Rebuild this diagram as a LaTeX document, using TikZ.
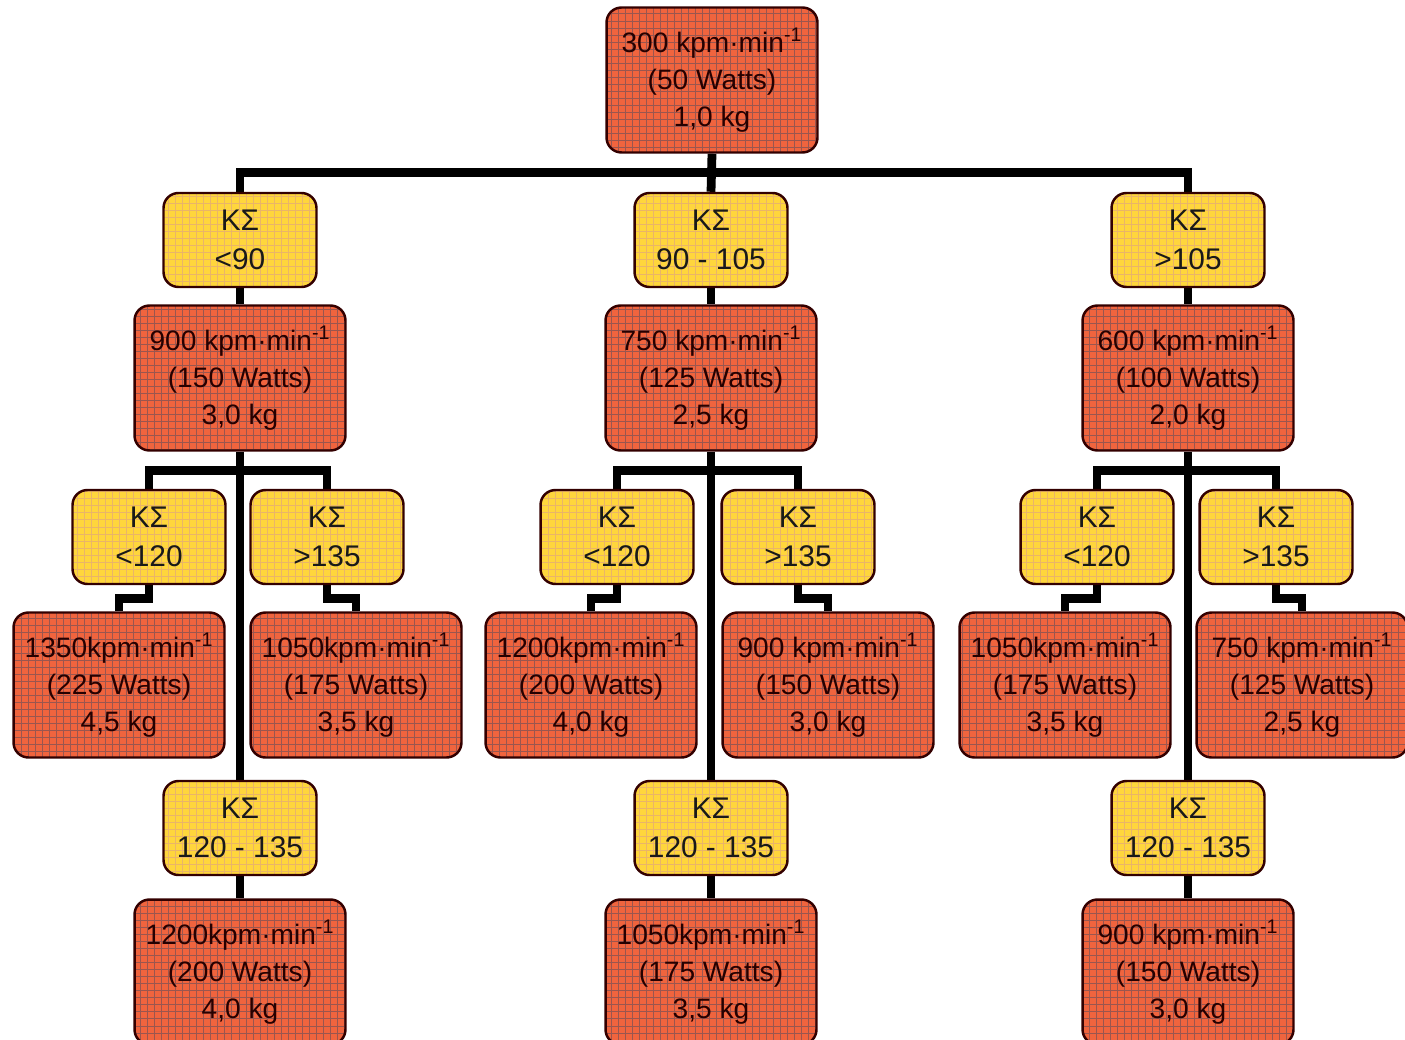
\documentclass[tikz,border=0pt]{standalone}
\usepackage{fontspec}
\setmainfont{Liberation Sans}
\usetikzlibrary{calc,patterns,backgrounds}

\definecolor{wattred}{RGB}{240,100,62}
\definecolor{wattgrid}{RGB}{120,30,20}
\definecolor{ksyellow}{RGB}{255,214,60}
\definecolor{ksgrid}{RGB}{225,150,40}

\pgfdeclarepatternformonly{boxgrid}{\pgfqpoint{-1pt}{-1pt}}{\pgfqpoint{5pt}{5pt}}{\pgfqpoint{4pt}{4pt}}{%
  \pgfsetlinewidth{0.5pt}
  \pgfpathmoveto{\pgfqpoint{0pt}{0pt}}\pgfpathlineto{\pgfqpoint{0pt}{4.1pt}}
  \pgfpathmoveto{\pgfqpoint{0pt}{0pt}}\pgfpathlineto{\pgfqpoint{4.1pt}{0pt}}
  \pgfusepath{stroke}}

\tikzset{
  watt/.style={draw=black!80!red, line width=1.4pt, rounded corners=0.3cm,
    preaction={fill=wattred}, pattern=boxgrid, pattern color=wattgrid!75,
    minimum width=4.22cm, minimum height=2.9cm, inner sep=0pt, align=center,
    text=black!85!red, font=\fontsize{16}{21}\selectfont},
  ksig/.style={draw=black!80!red, line width=1.4pt, rounded corners=0.3cm,
    preaction={fill=ksyellow}, pattern=boxgrid, pattern color=ksgrid!70,
    minimum width=3.06cm, minimum height=1.88cm, inner sep=0pt, align=center,
    text=black!90, font=\fontsize{17}{22}\selectfont},
  link/.style={line width=5pt, black},
}

\begin{document}
\begin{tikzpicture}[x=0.02cm,y=-0.02cm]
		%%%%% START %%%%%
		\useasboundingbox (0,0) rectangle (1405,1040);
		
		\node[watt] (root) at (712,80) {300 kpm·min\textsuperscript{-1}\\(50 Watts)\\1,0 kg};
		
		\node[ksig] (k1) at (240,240) {KΣ\\<90};
		\node[ksig] (k2) at (711,240) {KΣ\\90 - 105};
		\node[ksig] (k3) at (1188,240) {KΣ\\>105};
		
		\node[watt] (w1) at (240,378) {900 kpm·min\textsuperscript{-1}\\(150 Watts)\\3,0 kg};
		\node[watt] (w2) at (711,378) {750 kpm·min\textsuperscript{-1}\\(125 Watts)\\2,5 kg};
		\node[watt] (w3) at (1188,378) {600 kpm·min\textsuperscript{-1}\\(100 Watts)\\2,0 kg};
		
		\node[ksig] (ka1) at (149,537) {KΣ\\<120};
		\node[ksig] (kb1) at (327,537) {KΣ\\>135};
		\node[ksig] (ka2) at (617,537) {KΣ\\<120};
		\node[ksig] (kb2) at (798,537) {KΣ\\>135};
		\node[ksig] (ka3) at (1097,537) {KΣ\\<120};
		\node[ksig] (kb3) at (1276,537) {KΣ\\>135};
		
		\node[watt] (wa1) at (119,685) {1350kpm·min\textsuperscript{-1}\\(225 Watts)\\4,5 kg};
		\node[watt] (wb1) at (356,685) {1050kpm·min\textsuperscript{-1}\\(175 Watts)\\3,5 kg};
		\node[watt] (wa2) at (591,685) {1200kpm·min\textsuperscript{-1}\\(200 Watts)\\4,0 kg};
		\node[watt] (wb2) at (828,685) {900 kpm·min\textsuperscript{-1}\\(150 Watts)\\3,0 kg};
		\node[watt] (wa3) at (1065,685) {1050kpm·min\textsuperscript{-1}\\(175 Watts)\\3,5 kg};
		\node[watt] (wb3) at (1302,685) {750 kpm·min\textsuperscript{-1}\\(125 Watts)\\2,5 kg};
		
		\node[ksig] (kc1) at (240,828) {KΣ\\120 - 135};
		\node[ksig] (kc2) at (711,828) {KΣ\\120 - 135};
		\node[ksig] (kc3) at (1188,828) {KΣ\\120 - 135};
		
		\node[watt] (wc1) at (240,972) {1200kpm·min\textsuperscript{-1}\\(200 Watts)\\4,0 kg};
		\node[watt] (wc2) at (711,972) {1050kpm·min\textsuperscript{-1}\\(175 Watts)\\3,5 kg};
		\node[watt] (wc3) at (1188,972) {900 kpm·min\textsuperscript{-1}\\(150 Watts)\\3,0 kg};
		
		\begin{scope}[on background layer]
		\draw[link] (root.south) -- (k2.north);
		\draw[link] (k1.north) |- ($(root.south)!0.5!(k2.north)$) -| (k3.north);
		
		\draw[link] (k1) -- (w1);
		\draw[link] (k2) -- (w2);
		\draw[link] (k3) -- (w3);
		
		\draw[link] (w1.south) -- (kc1.north);
		\draw[link] (w2.south) -- (kc2.north);
		\draw[link] (w3.south) -- (kc3.north);
		\draw[link] (ka1.north) |- ($(w1.south)!0.5!(ka1.north)$) -| (kb1.north);
		\draw[link] (ka2.north) |- ($(w2.south)!0.5!(ka2.north)$) -| (kb2.north);
		\draw[link] (ka3.north) |- ($(w3.south)!0.5!(ka3.north)$) -| (kb3.north);
		
		\draw[link] (ka1.south) |- ($(ka1.south)!0.5!(wa1.north)$) -| (wa1.north);
		\draw[link] (kb1.south) |- ($(kb1.south)!0.5!(wb1.north)$) -| (wb1.north);
		\draw[link] (ka2.south) |- ($(ka2.south)!0.5!(wa2.north)$) -| (wa2.north);
		\draw[link] (kb2.south) |- ($(kb2.south)!0.5!(wb2.north)$) -| (wb2.north);
		\draw[link] (ka3.south) |- ($(ka3.south)!0.5!(wa3.north)$) -| (wa3.north);
		\draw[link] (kb3.south) |- ($(kb3.south)!0.5!(wb3.north)$) -| (wb3.north);
		
		\draw[link] (kc1) -- (wc1);
		\draw[link] (kc2) -- (wc2);
		\draw[link] (kc3) -- (wc3);
		\end{scope}
		
		%%%%% END %%%%%
\end{tikzpicture}
\end{document}
